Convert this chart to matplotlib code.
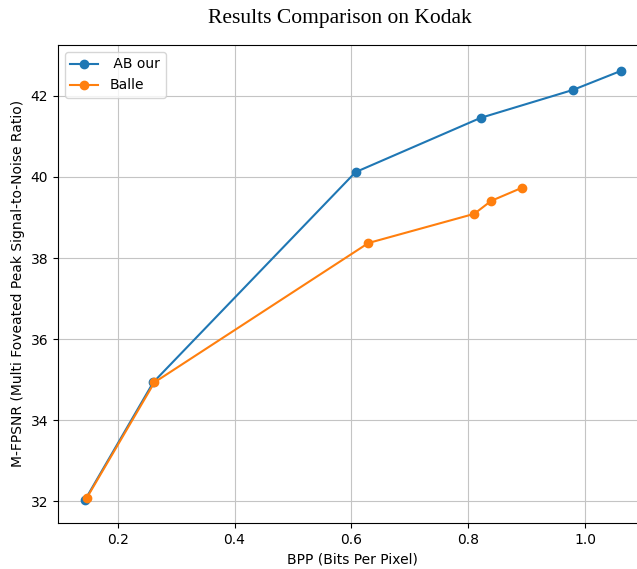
import matplotlib
matplotlib.use('Agg')
import matplotlib.pyplot as plt

bpp_ab = [0.144, 0.261, 0.607, 0.821, 0.979, 1.061]
psnr_ab = [32.02, 34.93, 40.12, 41.46, 42.15, 42.62]
bpp_balle = [0.147, 0.263, 0.629, 0.810, 0.839, 0.891]
psnr_balle = [32.07, 34.93, 38.37, 39.09, 39.41, 39.73]

fig = plt.figure(figsize=(6.37, 5.69), dpi=100)
ax = fig.add_axes([0.091, 0.081, 0.926, 0.840])

ax.plot(bpp_ab, psnr_ab, 'o-', color='#1f77b4', label=' AB our')
ax.plot(bpp_balle, psnr_balle, 'o-', color='#ff7f0e', label='Balle')

ax.set_xlim(0.098, 1.107)
ax.set_ylim(31.46, 43.26)
ax.set_xticks([0.2, 0.4, 0.6, 0.8, 1.0])
ax.set_yticks([32, 34, 36, 38, 40, 42])
ax.grid(True, color='#c4c4c4')
ax.set_xlabel('BPP (Bits Per Pixel)')
ax.set_ylabel('M-FPSNR (Multi Foveated Peak Signal-to-Noise Ratio)')
ax.legend(loc='upper left')

fig.text(0.534, 0.967, 'Results Comparison on Kodak', ha='center', va='center',
         family='Liberation Serif', fontsize=15.5)

fig.savefig('out.png', dpi=100)
